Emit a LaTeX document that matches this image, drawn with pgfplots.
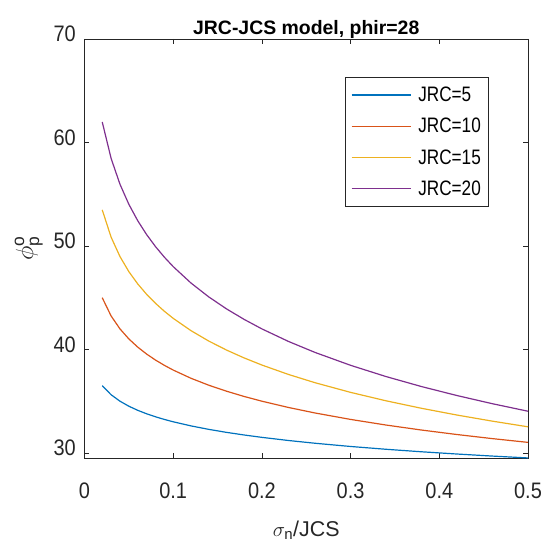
\documentclass[border=0pt]{standalone}
\usepackage{amsmath}
\usepackage{fontspec}
\setmainfont{Liberation Sans}
\newfontfamily\tickfont{Liberation Sans}[FakeStretch=0.89]
\newfontfamily\legfont{Liberation Sans}[FakeStretch=0.82]
\usepackage{pgfplots}
\usepackage{pgfplotstable}
\pgfplotsset{compat=1.18}
\definecolor{c1}{rgb}{0,0.447,0.741}
\definecolor{c2}{rgb}{0.85,0.325,0.098}
\definecolor{c3}{rgb}{0.929,0.694,0.125}
\definecolor{c4}{rgb}{0.494,0.184,0.556}
\definecolor{axgray}{rgb}{0.15,0.15,0.15}

\pgfplotstableread{
x    j5     j10    j15    j20
0.02 36.495 44.990 53.485 61.979
0.03 35.614 43.229 50.843 58.458
0.04 34.990 41.979 48.969 55.959
0.05 34.505 41.010 47.515 54.021
0.06 34.109 40.219 46.328 52.437
0.07 33.775 39.549 45.324 51.098
0.08 33.485 38.969 44.454 49.938
0.09 33.229 38.458 43.686 48.915
0.10 33.000 38.000 43.000 48.000
0.12 32.604 37.208 41.812 46.416
0.14 32.269 36.539 40.808 45.077
0.16 31.979 35.959 39.938 43.918
0.18 31.724 35.447 39.171 42.895
0.20 31.495 34.990 38.485 41.979
0.23 31.191 34.383 37.574 40.765
0.26 30.925 33.850 36.775 39.701
0.30 30.614 33.229 35.843 38.458
0.34 30.343 32.685 35.028 37.370
0.38 30.101 32.202 34.303 36.404
0.42 29.884 31.768 33.651 35.535
0.46 29.686 31.372 33.059 34.745
0.50 29.505 31.010 32.515 34.021
}\data

\begin{document}
\begin{tikzpicture}
\begin{axis}[
  scale only axis,
  width=443.5bp, height=419bp,
  xmin=0, xmax=0.5, ymin=29.5, ymax=70,
  xtick={0,0.1,0.2,0.3,0.4,0.5},
  xticklabels={0,0.1,0.2,0.3,0.4,0.5},
  ytick={30,40,50,60,70},
  yticklabels={30,40,50,60,70},
  tick align=inside, tick pos=both,
  major tick length=5bp,
  axis line style={axgray, line width=0.6pt},
  every tick/.style={axgray, line width=0.6pt},
  ticklabel style={font=\tickfont\fontsize{22.5}{27}\selectfont, text=axgray, inner sep=0pt},
  xticklabel style={anchor=base, yshift=-40bp},
  yticklabel style={anchor=mid east, xshift=-8.5bp},
  title={JRC-JCS model, phir=28},
  title style={font=\bfseries\fontsize{19.5}{23}\selectfont, at={(0.5,1)}, anchor=base, yshift=-1bp, text=black},
  xlabel={$\sigma_{\text{n}}$/JCS},
  xlabel style={font=\fontsize{21.5}{26}\selectfont, at={(axis description cs:0.5,0)}, anchor=base, yshift=-78bp, text=axgray},
  ylabel={$\phi_{\text{p}}^{\text{o}}$},
  ylabel style={font=\fontsize{25}{29}\selectfont, at={(axis description cs:-0.116,0.5)}, anchor=base, text=axgray},
  legend style={at={(0.9098,0.9093)}, anchor=north east, draw=axgray,
    inner xsep=6bp, inner ysep=9bp, row sep=13bp, column sep=6bp,
    font=\legfont\fontsize{21}{25}\selectfont,
    nodes={inner sep=1bp}},
  legend cell align=left,
  legend image code/.code={\draw[#1, line width=1.6pt] (0bp,0bp) -- (59bp,0bp);},
]
\addplot[color=c1, line width=1.2pt] table[x=x, y=j5] {\data};
\addlegendentry{JRC=5}
\addplot[color=c2, line width=1.2pt] table[x=x, y=j10] {\data};
\addlegendentry{JRC=10}
\addplot[color=c3, line width=1.2pt] table[x=x, y=j15] {\data};
\addlegendentry{JRC=15}
\addplot[color=c4, line width=1.2pt] table[x=x, y=j20] {\data};
\addlegendentry{JRC=20}
\end{axis}
\pgfresetboundingbox
\path[use as bounding box] ([shift={(-84.5bp,-88bp)}]current axis.south west) rectangle ([shift={(15bp,39bp)}]current axis.north east);
\end{tikzpicture}
\end{document}
